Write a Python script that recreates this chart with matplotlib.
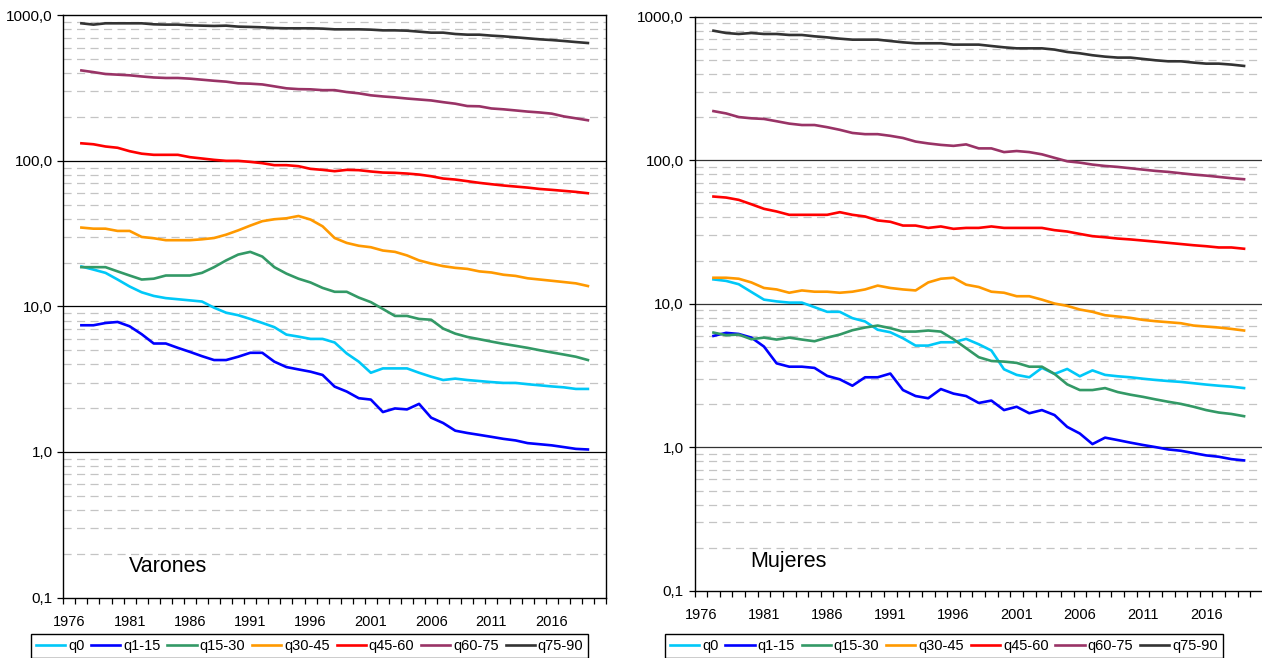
import matplotlib
matplotlib.use("Agg")
import matplotlib.pyplot as plt
from matplotlib.ticker import FixedLocator, NullFormatter
import numpy as np

plt.rcParams['font.family'] = ['Liberation Sans', 'DejaVu Sans']

years = list(range(1977, 2020))
series_names = ["q0", "q1-15", "q15-30", "q30-45", "q45-60", "q60-75", "q75-90"]
colors = ["#00C8F8", "#0000FF", "#339966", "#FF9900", "#FF0000", "#993366", "#333333"]

# Varones
q0_m = [18.8, 17.9, 17.0, 15.3, 13.7, 12.5, 11.8, 11.4, 11.2, 11.0, 10.8, 9.8, 9.05, 8.7, 8.2, 7.7, 7.2, 6.4, 6.2, 5.98,
        5.98, 5.65, 4.75, 4.17, 3.5, 3.75, 3.75, 3.75, 3.5, 3.29, 3.12, 3.19, 3.12, 3.07, 3.02, 2.98, 2.98, 2.92, 2.87, 2.82,
        2.78, 2.71, 2.71]
q1_m = [7.42, 7.42, 7.69, 7.82, 7.3, 6.44, 5.56, 5.56, 5.19, 4.87, 4.55, 4.28, 4.28, 4.51, 4.8, 4.8, 4.17, 3.83, 3.69, 3.56,
        3.38, 2.81, 2.6, 2.34, 2.29, 1.88, 1.99, 1.96, 2.14, 1.72, 1.58, 1.40, 1.35, 1.31, 1.27, 1.23, 1.20, 1.15, 1.13, 1.11,
        1.08, 1.05, 1.04]
q15_m = [18.6, 18.6, 18.6, 17.4, 16.3, 15.3, 15.5, 16.3, 16.3, 16.3, 17.0, 18.6, 20.7, 22.7, 23.7, 22.0, 18.6, 16.8, 15.5, 14.6,
         13.4, 12.6, 12.6, 11.5, 10.7, 9.6, 8.6, 8.6, 8.2, 8.1, 7.04, 6.5, 6.17, 5.95, 5.73, 5.53, 5.36, 5.19, 5.0, 4.83,
         4.67, 4.51, 4.28]
q30_m = [34.8, 34.2, 34.2, 33.0, 33.0, 30.0, 29.4, 28.5, 28.5, 28.5, 28.9, 29.5, 31.1, 33.3, 35.9, 38.5, 39.7, 40.3, 41.8, 39.5,
         35.5, 29.5, 27.3, 26.1, 25.5, 24.2, 23.7, 22.4, 20.7, 19.7, 18.9, 18.4, 18.1, 17.4, 17.1, 16.5, 16.2, 15.6, 15.3, 15.0,
         14.7, 14.4, 13.8]
q45_m = [132, 130, 125.5, 123, 116.5, 112, 110, 110, 110, 106, 103.8, 101.6, 100, 100, 98.4, 96.4, 93.4, 93.4, 91.9, 88.1,
         86.7, 84.9, 86.7, 86.3, 84.5, 83.1, 82.7, 81.8, 80.5, 78.4, 75.6, 74.4, 72.5, 70.6, 69.1, 67.7, 66.6, 65.5, 64.1, 63.2,
         62.2, 61.2, 59.9]
q60_m = [418, 407, 395, 391, 387, 380, 374, 371, 371, 367, 361, 355, 350, 341, 339, 335, 325, 315, 311, 310,
         306, 306, 297, 291, 282, 277, 273, 268, 264, 260, 253, 247, 238, 237, 229, 226, 222, 218, 215, 211,
         202, 196, 190]
q75_m = [881, 863, 881, 881, 881, 881, 867, 863, 863, 853, 849, 845, 849, 836, 832, 827, 818, 814, 814, 814,
         810, 801, 801, 801, 797, 788, 788, 784, 772, 760, 760, 744, 736, 736, 725, 717, 706, 695, 684, 676,
         666, 655, 645]

# Mujeres
q0_w = [14.8, 14.45, 13.7, 12.1, 10.7, 10.4, 10.2, 10.2, 9.48, 8.8, 8.8, 7.95, 7.54, 6.6, 6.34, 5.76, 5.12, 5.12, 5.40, 5.40,
        5.70, 5.23, 4.73, 3.50, 3.20, 3.08, 3.58, 3.25, 3.52, 3.13, 3.44, 3.20, 3.13, 3.08, 3.01, 2.95, 2.90, 2.86, 2.80, 2.74,
        2.69, 2.65, 2.59]
q1_w = [5.98, 6.28, 6.17, 5.82, 5.04, 3.85, 3.65, 3.65, 3.58, 3.15, 2.98, 2.69, 3.08, 3.08, 3.27, 2.51, 2.28, 2.20, 2.55, 2.37,
        2.28, 2.04, 2.12, 1.82, 1.92, 1.73, 1.82, 1.68, 1.39, 1.25, 1.055, 1.17, 1.125, 1.08, 1.04, 1.005, 0.968, 0.948, 0.913,
        0.88, 0.861, 0.829, 0.812]
q15_w = [6.31, 6.05, 6.11, 5.67, 5.82, 5.64, 5.82, 5.64, 5.49, 5.82, 6.11, 6.55, 6.84, 7.06, 6.77, 6.41, 6.41, 6.52, 6.41, 5.67,
         4.91, 4.25, 4.00, 3.96, 3.88, 3.65, 3.65, 3.25, 2.75, 2.51, 2.51, 2.59, 2.43, 2.33, 2.25, 2.16, 2.08, 2.01, 1.92, 1.82,
         1.75, 1.71, 1.65]
q30_w = [15.2, 15.2, 14.96, 14.1, 12.9, 12.6, 11.95, 12.4, 12.15, 12.15, 11.95, 12.15, 12.6, 13.4, 12.9, 12.6, 12.4, 14.1, 14.96,
         15.2, 13.6, 13.1, 12.15, 11.95, 11.3, 11.3, 10.7, 10.05, 9.68, 9.13, 8.80, 8.33, 8.16, 7.99, 7.73, 7.57, 7.45, 7.33,
         7.06, 6.95, 6.84, 6.69, 6.52]
q45_w = [55.9, 55.0, 53.0, 49.4, 45.9, 44.0, 41.7, 41.7, 41.7, 41.7, 43.5, 41.7, 40.6, 38.1, 37.3, 35.1, 35.1, 33.8, 34.6, 33.3,
         33.8, 33.8, 34.6, 33.8, 33.8, 33.8, 33.8, 32.6, 31.9, 30.7, 29.6, 29.1, 28.5, 28.1, 27.6, 27.1, 26.6, 26.1, 25.6, 25.2,
         24.7, 24.7, 24.2]
q60_w = [220, 212, 200, 196, 194, 187, 180, 176, 176, 170, 163, 155, 152, 152, 148, 143, 135, 131, 128, 126,
         129, 121, 121, 114, 116, 114, 110, 104, 98.4, 96.3, 93.3, 91.3, 89.9, 88.0, 86.1, 84.3, 83.0, 81.2, 79.5, 78.2,
         76.6, 75.0, 73.8]
q75_w = [799, 770, 758, 770, 758, 758, 746, 746, 730, 718, 703, 692, 692, 692, 677, 663, 653, 653, 653, 639,
         639, 639, 625, 612, 602, 602, 602, 590, 568, 556, 539, 527, 519, 519, 508, 497, 489, 489, 479, 471,
         471, 464, 454]

men = [q0_m, q1_m, q15_m, q30_m, q45_m, q60_m, q75_m]
women = [q0_w, q1_w, q15_w, q30_w, q45_w, q60_w, q75_w]

ytick_vals = [0.1, 1, 10, 100, 1000]
ytick_labels = ["0,1", "1,0", "10,0", "100,0", "1000,0"]
xlabel_years = list(range(1976, 2017, 5))

W, H = 1262, 658
fig = plt.figure(figsize=(W / 100, H / 100), dpi=100)

def fx(px):
    return px / W

def fy(py):
    return 1 - py / H

ax1 = fig.add_axes([fx(63.3), fy(597.5), fx(606) - fx(63.3), fy(15.3) - fy(597.5)])
ax2 = fig.add_axes([fx(694.5), fy(591), fx(1263) - fx(694.5), fy(16.7) - fy(591)])

def style(ax, data, label, lx, ly, major_col, show_right):
    ax.set_yscale('log')
    ax.set_ylim(0.1, 1000)
    ax.set_xlim(1975.5, 2020.5)
    minor_vals = [m * 10.0 ** e for e in range(-1, 3) for m in range(2, 10)]
    for v in minor_vals:
        ax.axhline(v, color="#c4c4c4", lw=0.9, dashes=(6.5, 4.3), zorder=1)
    for v in [1, 10, 100]:
        ax.axhline(v, color=major_col, lw=0.9, zorder=1.5)
    for vals, c, n in zip(data, colors, series_names):
        ax.plot(years, vals, color=c, lw=1.9, label=n, zorder=3, solid_joinstyle='round')
    ax.yaxis.set_major_locator(FixedLocator(ytick_vals))
    ax.set_yticklabels(ytick_labels)
    ax.yaxis.set_minor_locator(FixedLocator([]))
    ax.yaxis.set_minor_formatter(NullFormatter())
    ax.tick_params(axis='y', which='major', direction='out', length=4.3, width=0.9, pad=3.4, labelsize=11)
    ax.xaxis.set_major_locator(FixedLocator(xlabel_years))
    ax.set_xticklabels([str(y) for y in xlabel_years])
    ax.xaxis.set_minor_locator(FixedLocator(np.arange(1975.5, 2021.0, 1.0)))
    ax.tick_params(axis='x', which='major', length=0, pad=12.5, labelsize=10.5)
    ax.tick_params(axis='x', which='minor', direction='out', length=4, width=0.9)
    for s in ax.spines.values():
        s.set_color('black')
        s.set_linewidth(1.0)
    if not show_right:
        ax.spines['right'].set_visible(False)
    ax.text(lx, ly, label, transform=ax.transAxes, fontsize=15.5, ha='left', va='baseline')

style(ax1, men, "Varones", (129.3 - 63.3) / 542.7, (597.5 - 572.3) / 582.2, 'black', True)
style(ax2, women, "Mujeres", (750 - 694.5) / 568.5, (591 - 567) / 574.3, '#333333', False)

for ax, left in [(ax1, 30.7), (ax2, 665)]:
    handles, labels = ax.get_legend_handles_labels()
    leg = fig.legend(handles, labels, loc='upper left', bbox_to_anchor=(fx(left), fy(634)),
                     bbox_transform=fig.transFigure, ncol=7, frameon=True, fancybox=False,
                     edgecolor='black', framealpha=1, fontsize=10.5, handlelength=2.0,
                     handletextpad=0.2, columnspacing=0.47, borderpad=0.35, borderaxespad=0)
    leg.get_frame().set_linewidth(1.0)

fig.savefig("out.png", dpi=100)
